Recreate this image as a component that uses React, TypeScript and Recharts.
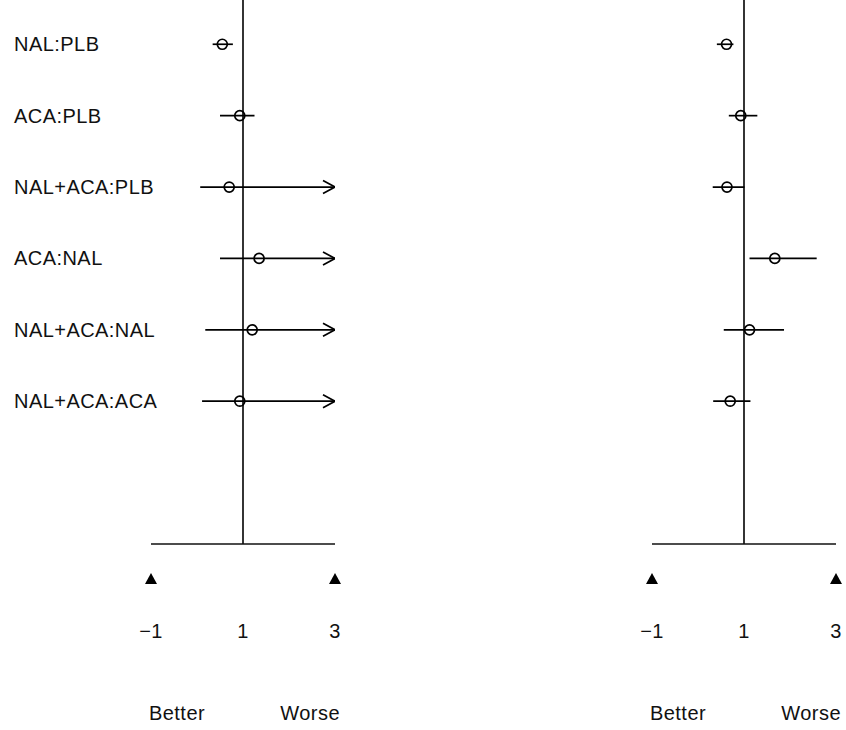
import React from 'react';
import { ScatterChart, Scatter, XAxis, YAxis, ErrorBar, ReferenceLine } from 'recharts';

const comparisons = ['NAL:PLB', 'ACA:PLB', 'NAL+ACA:PLB', 'ACA:NAL', 'NAL+ACA:NAL', 'NAL+ACA:ACA'];
const rowPositions = [1, 2, 3, 4, 5, 6];

const leftEstimate = [0.55, 0.93, 0.7, 1.35, 1.2, 0.93];
const leftLower = [0.34, 0.5, 0.07, 0.5, 0.18, 0.11];
const leftUpper = [0.78, 1.25, 3, 3, 3, 3]; // 3 = truncated at axis end (drawn with arrow)

const rightEstimate = [0.62, 0.93, 0.63, 1.67, 1.12, 0.7];
const rightLower = [0.41, 0.67, 0.32, 1.12, 0.56, 0.33];
const rightUpper = [0.77, 1.29, 1.01, 2.58, 1.87, 1.14];

const xTicks = [-1, 1, 3];
const xMin = -1;
const xMax = 3;
const betterLabel = 'Better';
const worseLabel = 'Worse';

const FONT = '"Liberation Sans", Arial, Helvetica, sans-serif';
const LS = 0.45;

const fmt = (v: number) => (v < 0 ? '\u2212' + Math.abs(v) : String(v));

const XTick = (props: any) => {
  const { x, y, payload } = props;
  const v = payload.value;
  const isEnd = v === xMin || v === xMax;
  return (
    <g>
      {isEnd && (
        <path d={`M${x - 6},${y + 40} L${x + 6},${y + 40} L${x},${y + 29} Z`} fill="#000" />
      )}
      <text x={x} y={y + 94} textAnchor="middle" fontSize={20} fontFamily={FONT} fill="#111" letterSpacing={LS}>
        {fmt(v)}
      </text>
      {v === xMin && (
        <text x={x - 2} y={y + 176} textAnchor="start" fontSize={20} fontFamily={FONT} fill="#111" letterSpacing={LS}>
          {betterLabel}
        </text>
      )}
      {v === xMax && (
        <text x={x + 5} y={y + 176} textAnchor="end" fontSize={20} fontFamily={FONT} fill="#111" letterSpacing={LS}>
          {worseLabel}
        </text>
      )}
    </g>
  );
};

const YTick = (props: any) => {
  const { y, payload } = props;
  const label = comparisons[rowPositions.indexOf(payload.value)];
  return (
    <text x={14} y={y} dy="0.35em" textAnchor="start" fontSize={20} fontFamily={FONT} fill="#111" letterSpacing={LS}>
      {label}
    </text>
  );
};

const Circle = (p: any) => (
  <circle cx={p.cx} cy={p.cy} r={5} fill="none" stroke="#000" strokeWidth={1.7} />
);

const Arrow = (p: any) => (
  <path
    d={`M${p.cx - 12},${p.cy - 6.5} L${p.cx},${p.cy} L${p.cx - 12},${p.cy + 6.5}`}
    fill="none"
    stroke="#000"
    strokeWidth={1.7}
  />
);

function Panel({
  width,
  est,
  lo,
  hi,
  showLabels,
}: {
  width: number;
  est: number[];
  lo: number[];
  hi: number[];
  showLabels: boolean;
}) {
  const points = rowPositions.map((r, i) => ({
    x: est[i],
    row: r,
    err: [est[i] - lo[i], hi[i] - est[i]],
  }));
  const arrows = rowPositions
    .map((r, i) => ({ x: hi[i], row: r }))
    .filter((d) => d.x >= xMax);
  return (
    <ScatterChart width={width} height={730} margin={{ top: 0, right: width - 335, bottom: 0, left: 0 }}>
      <XAxis
        type="number"
        dataKey="x"
        domain={[xMin, xMax]}
        allowDataOverflow
        ticks={xTicks}
        interval={0}
        height={186}
        tickLine={false}
        tickSize={0}
        tickMargin={0}
        axisLine={{ stroke: '#111', strokeWidth: 1.7 }}
        tick={<XTick />}
      />
      <YAxis
        type="number"
        dataKey="row"
        domain={[0.38, 8]}
        reversed
        allowDataOverflow
        ticks={rowPositions}
        interval={0}
        width={151}
        axisLine={false}
        tickLine={false}
        tick={showLabels ? <YTick /> : false}
      />
      <ReferenceLine x={1} stroke="#111" strokeWidth={1.7} ifOverflow="extendDomain" />
      <Scatter data={points} shape={Circle} isAnimationActive={false}>
        <ErrorBar dataKey="err" direction="x" width={0} stroke="#000" strokeWidth={1.7} isAnimationActive={false} />
      </Scatter>
      <Scatter data={arrows} shape={Arrow} isAnimationActive={false} />
    </ScatterChart>
  );
}

export default function App() {
  return (
    <div
      style={{
        position: 'absolute',
        left: 0,
        top: 0,
        width: 846,
        height: 730,
        background: '#fff',
        fontFamily: FONT,
      }}
    >
      <div style={{ position: 'absolute', left: 0, top: 0 }}>
        <Panel width={501} est={leftEstimate} lo={leftLower} hi={leftUpper} showLabels />
      </div>
      <div style={{ position: 'absolute', left: 501, top: 0 }}>
        <Panel width={345} est={rightEstimate} lo={rightLower} hi={rightUpper} showLabels={false} />
      </div>
    </div>
  );
}
